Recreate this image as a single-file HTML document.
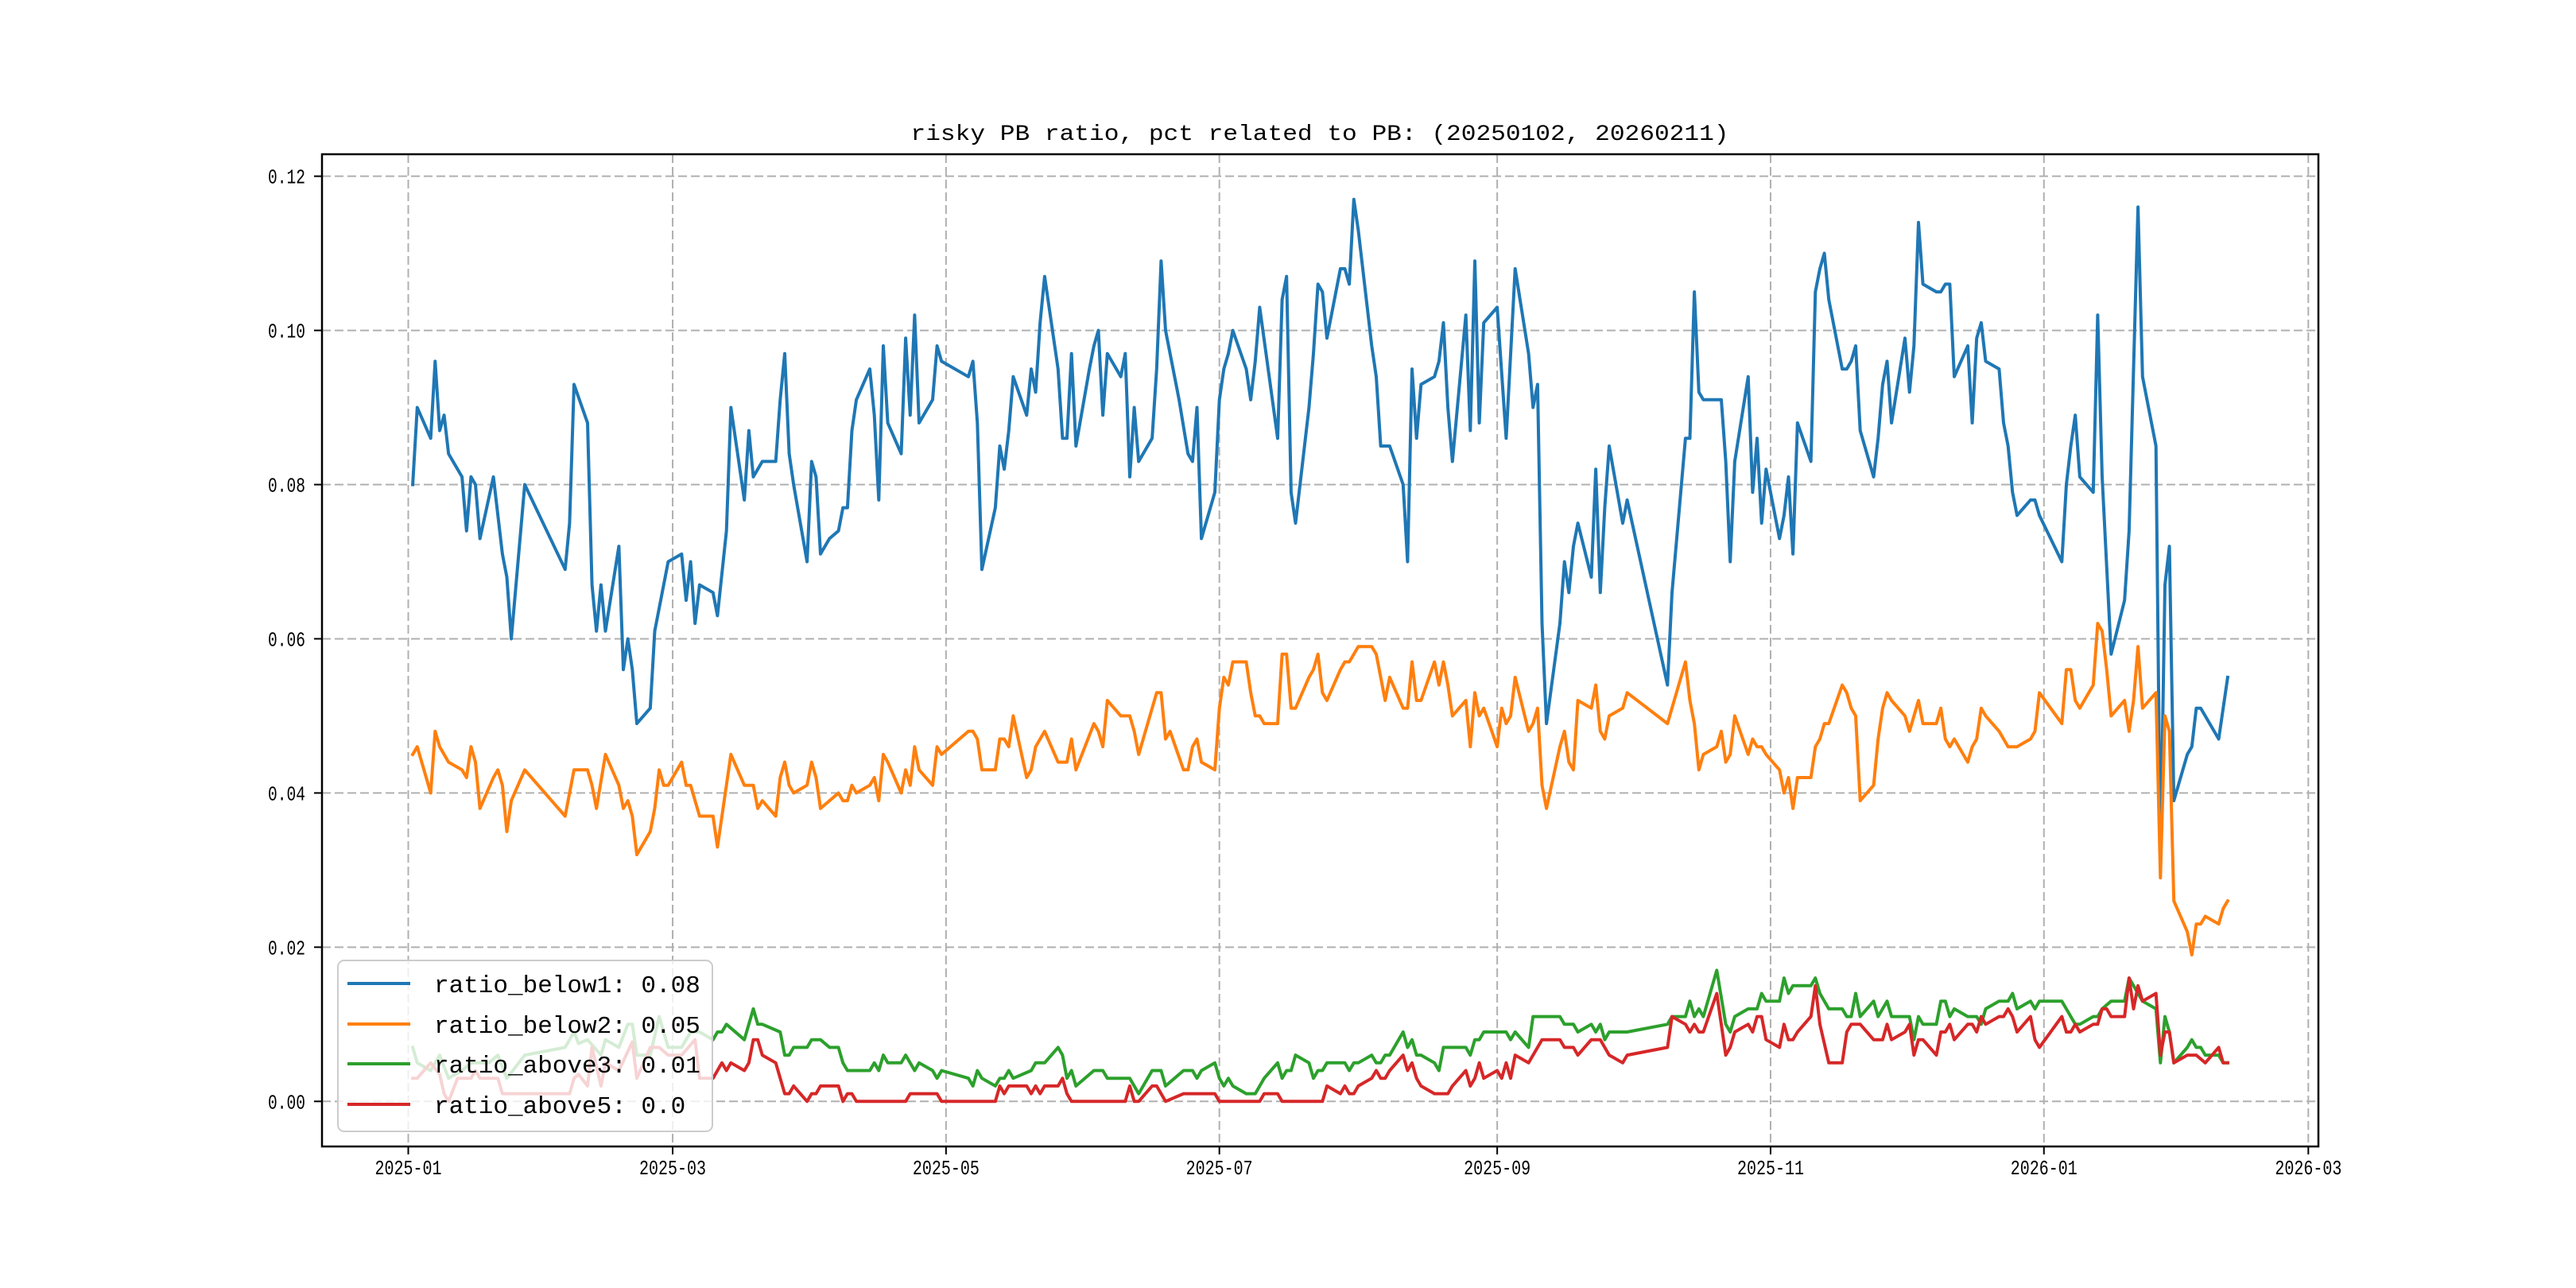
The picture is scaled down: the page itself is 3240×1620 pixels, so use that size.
<!DOCTYPE html>
<html>
<head>
<meta charset="utf-8">
<style>
html,body{margin:0;padding:0;background:#fff;}
svg{display:block;}
text{font-family:"Liberation Mono","Noto Sans CJK SC",monospace;fill:#000;}
</style>
</head>
<body>
<svg id="chart" width="3240" height="1620" viewBox="0 0 3240 1620" xmlns="http://www.w3.org/2000/svg">
  <rect x="0" y="0" width="3240" height="1620" fill="#fff"/>
  <g id="grid"></g>
  <g id="series"></g>
  <rect x="405" y="194" width="2511" height="1248" fill="none" stroke="#000" stroke-width="2.5"/>
  <g id="ticks"></g>
  <text x="1660" y="176" font-size="28" text-anchor="middle" textLength="1029" lengthAdjust="spacingAndGlyphs">risky PB ratio, pct related to PB: (20250102, 20260211)</text>
  <g id="legend"></g>
</svg>
<script>
// x values are day offsets from 2025-01-01
const monthTickDays = [0, 59, 120, 181, 243, 304, 365, 424];
const monthTickLabels = ["2025-01","2025-03","2025-05","2025-07","2025-09","2025-11","2026-01","2026-03"];
const yTickValues = [0, 0.02, 0.04, 0.06, 0.08, 0.10, 0.12];
const yTickLabels = ["0.00","0.02","0.04","0.06","0.08","0.10","0.12"];
const seriesNames = ["ratio_below1: 0.08","ratio_below2: 0.05","ratio_above3: 0.01","ratio_above5: 0.0"];

const daysBelow1 = [1,2,5,6,7,8,9,12,13,14,15,16,19,21,22,23,26,35,36,37,40,41,42,43,44,47,48,49,50,51,54,55,58,61,62,63,64,65,68,69,71,72,75,76,77,79,82,83,84,85,86,89,90,91,92,94,96,97,98,99,100,103,104,105,106,107,110,111,112,113,114,117,118,119,125,126,127,128,131,132,133,134,135,138,139,140,141,142,145,146,147,148,149,152,153,154,155,156,159,160,161,162,163,166,167,168,169,172,174,175,176,177,180,181,182,183,184,187,188,189,190,194,195,196,197,198,201,202,203,204,205,208,209,210,211,212,215,216,217,219,222,223,224,225,226,229,230,231,232,233,236,237,238,239,240,243,245,247,250,251,252,253,254,257,258,259,260,261,264,265,266,267,268,271,272,281,282,285,286,287,288,289,293,294,295,296,299,300,301,302,303,306,307,308,309,310,313,314,315,316,317,320,321,322,323,324,327,328,329,330,331,334,335,336,337,338,341,342,343,344,345,348,349,350,351,352,355,356,357,358,359,362,363,364,369,370,371,372,373,376,377,378,380,383,384,385,386,387,390,391,392,393,394,397,398,399,400,404,406];
const below1 = [0.080,0.090,0.086,0.096,0.087,0.089,0.084,0.081,0.074,0.081,0.080,0.073,0.081,0.071,0.068,0.060,0.080,0.069,0.075,0.093,0.088,0.067,0.061,0.067,0.061,0.072,0.056,0.060,0.056,0.049,0.051,0.061,0.070,0.071,0.065,0.070,0.062,0.067,0.066,0.063,0.074,0.090,0.078,0.087,0.081,0.083,0.083,0.091,0.097,0.084,0.080,0.070,0.083,0.081,0.071,0.073,0.074,0.077,0.077,0.087,0.091,0.095,0.089,0.078,0.098,0.088,0.084,0.099,0.089,0.102,0.088,0.091,0.098,0.096,0.094,0.096,0.088,0.069,0.077,0.085,0.082,0.087,0.094,0.089,0.095,0.092,0.101,0.107,0.095,0.086,0.086,0.097,0.085,0.095,0.098,0.100,0.089,0.097,0.094,0.097,0.081,0.090,0.083,0.086,0.095,0.109,0.100,0.091,0.084,0.083,0.090,0.073,0.079,0.091,0.095,0.097,0.100,0.095,0.091,0.096,0.103,0.086,0.104,0.107,0.079,0.075,0.090,0.097,0.106,0.105,0.099,0.108,0.108,0.106,0.117,0.113,0.098,0.094,0.085,0.085,0.080,0.070,0.095,0.086,0.093,0.094,0.096,0.101,0.090,0.083,0.102,0.087,0.109,0.088,0.101,0.103,0.086,0.108,0.097,0.090,0.093,0.062,0.049,0.062,0.070,0.066,0.072,0.075,0.068,0.082,0.066,0.077,0.085,0.075,0.078,0.054,0.066,0.086,0.086,0.105,0.092,0.091,0.091,0.083,0.070,0.083,0.094,0.079,0.086,0.075,0.082,0.073,0.076,0.081,0.071,0.088,0.083,0.105,0.108,0.110,0.104,0.095,0.095,0.096,0.098,0.087,0.081,0.086,0.093,0.096,0.088,0.099,0.092,0.098,0.114,0.106,0.105,0.105,0.106,0.106,0.094,0.098,0.088,0.099,0.101,0.096,0.095,0.088,0.085,0.079,0.076,0.078,0.078,0.076,0.070,0.080,0.085,0.089,0.081,0.079,0.102,0.081,0.058,0.065,0.074,0.095,0.116,0.094,0.085,0.031,0.067,0.072,0.039,0.045,0.046,0.051,0.051,0.047,0.055];

const daysBelow2 = [1,2,5,6,7,9,12,13,14,15,16,19,20,21,22,23,26,35,37,40,41,42,44,47,48,49,50,51,54,55,56,57,58,61,62,63,65,68,69,72,75,77,78,79,82,83,84,85,86,89,90,91,92,94,96,97,98,99,100,103,104,105,106,107,110,111,112,113,114,117,118,119,125,126,127,128,131,132,133,134,135,138,139,140,142,145,147,148,149,153,154,155,156,159,161,162,163,167,168,169,170,173,174,175,176,177,180,181,182,183,184,187,188,189,190,191,194,195,196,197,198,201,202,203,204,205,208,209,210,212,215,216,218,219,222,223,224,225,226,229,230,231,232,233,236,237,238,239,240,243,244,245,246,247,250,251,252,253,254,257,258,259,260,261,264,265,266,267,268,271,272,281,285,286,287,288,289,292,293,294,295,296,299,300,301,302,303,306,307,308,309,310,313,314,315,316,317,320,321,322,323,324,327,328,329,330,331,334,335,337,338,341,342,343,344,345,348,349,350,351,352,355,357,359,362,363,364,369,370,371,372,373,376,377,378,379,380,383,384,385,386,387,390,391,392,393,394,397,398,399,400,401,404,405,406];
const below2 = [0.045,0.046,0.040,0.048,0.046,0.044,0.043,0.042,0.046,0.044,0.038,0.042,0.043,0.041,0.035,0.039,0.043,0.037,0.043,0.043,0.041,0.038,0.045,0.041,0.038,0.039,0.037,0.032,0.035,0.038,0.043,0.041,0.041,0.044,0.041,0.041,0.037,0.037,0.033,0.045,0.041,0.041,0.038,0.039,0.037,0.042,0.044,0.041,0.040,0.041,0.044,0.042,0.038,0.039,0.040,0.039,0.039,0.041,0.040,0.041,0.042,0.039,0.045,0.044,0.040,0.043,0.041,0.046,0.043,0.041,0.046,0.045,0.048,0.048,0.047,0.043,0.043,0.047,0.047,0.046,0.050,0.042,0.043,0.046,0.048,0.044,0.044,0.047,0.043,0.049,0.048,0.046,0.052,0.050,0.050,0.048,0.045,0.053,0.053,0.047,0.048,0.043,0.043,0.046,0.047,0.044,0.043,0.051,0.055,0.054,0.057,0.057,0.053,0.050,0.050,0.049,0.049,0.058,0.058,0.051,0.051,0.055,0.056,0.058,0.053,0.052,0.056,0.057,0.057,0.059,0.059,0.058,0.052,0.055,0.051,0.051,0.057,0.052,0.052,0.057,0.054,0.057,0.054,0.050,0.052,0.046,0.053,0.050,0.051,0.046,0.051,0.049,0.050,0.055,0.048,0.049,0.051,0.041,0.038,0.046,0.048,0.044,0.043,0.052,0.051,0.054,0.048,0.047,0.050,0.051,0.053,0.049,0.057,0.052,0.049,0.043,0.045,0.046,0.048,0.044,0.045,0.050,0.045,0.047,0.046,0.046,0.045,0.043,0.040,0.042,0.038,0.042,0.042,0.046,0.047,0.049,0.049,0.054,0.053,0.051,0.050,0.039,0.041,0.047,0.051,0.053,0.052,0.050,0.048,0.052,0.049,0.049,0.051,0.047,0.046,0.047,0.044,0.046,0.047,0.051,0.050,0.048,0.046,0.046,0.047,0.048,0.053,0.049,0.056,0.056,0.052,0.051,0.054,0.062,0.061,0.056,0.050,0.052,0.048,0.052,0.059,0.051,0.053,0.029,0.050,0.048,0.026,0.022,0.019,0.023,0.023,0.024,0.023,0.025,0.026];

const daysAbove3 = [1,2,5,7,9,12,14,18,20,22,26,35,37,38,40,43,44,47,49,50,51,54,56,58,61,63,65,68,69,70,71,75,77,78,79,83,84,85,86,89,90,92,94,96,97,98,103,104,105,106,107,110,111,113,114,117,118,119,125,126,127,128,131,132,133,134,135,139,140,142,145,146,147,148,149,153,155,156,161,163,166,168,169,173,175,176,177,180,181,182,183,184,187,189,191,194,195,196,197,198,201,202,203,204,205,209,210,211,212,215,216,217,218,219,222,223,224,225,226,229,230,231,236,237,238,239,240,245,246,247,250,251,257,258,260,261,264,265,266,267,268,272,281,282,285,286,287,288,289,292,294,295,296,299,301,302,303,306,307,308,309,313,314,315,317,320,321,322,323,324,327,328,330,331,335,336,337,338,341,342,343,344,345,348,350,351,352,355,357,358,359,362,363,364,369,372,373,376,377,378,380,383,384,385,387,390,391,392,393,394,397,398,399,400,401,404,405,406];
const above3 = [0.007,0.005,0.004,0.006,0.003,0.004,0.005,0.005,0.006,0.003,0.006,0.007,0.009,0.0075,0.008,0.006,0.008,0.007,0.010,0.010,0.006,0.006,0.011,0.007,0.007,0.009,0.009,0.008,0.009,0.009,0.010,0.008,0.012,0.010,0.010,0.009,0.006,0.006,0.007,0.007,0.008,0.008,0.007,0.007,0.005,0.004,0.004,0.005,0.004,0.006,0.005,0.005,0.006,0.004,0.005,0.004,0.003,0.004,0.003,0.002,0.004,0.003,0.002,0.003,0.003,0.004,0.003,0.004,0.005,0.005,0.007,0.006,0.003,0.004,0.002,0.004,0.004,0.003,0.003,0.001,0.004,0.004,0.002,0.004,0.004,0.003,0.004,0.005,0.003,0.002,0.003,0.002,0.001,0.001,0.003,0.005,0.003,0.004,0.004,0.006,0.005,0.003,0.004,0.004,0.005,0.005,0.004,0.005,0.005,0.006,0.005,0.005,0.006,0.006,0.009,0.007,0.008,0.006,0.006,0.005,0.004,0.007,0.007,0.006,0.008,0.008,0.009,0.009,0.008,0.009,0.007,0.011,0.011,0.010,0.010,0.009,0.010,0.009,0.010,0.008,0.009,0.009,0.010,0.011,0.011,0.013,0.011,0.012,0.011,0.017,0.010,0.009,0.011,0.012,0.012,0.014,0.013,0.013,0.016,0.014,0.015,0.015,0.016,0.014,0.012,0.012,0.011,0.011,0.014,0.011,0.013,0.011,0.013,0.011,0.011,0.008,0.011,0.010,0.010,0.013,0.013,0.011,0.012,0.011,0.011,0.010,0.012,0.013,0.013,0.014,0.012,0.013,0.012,0.013,0.013,0.010,0.010,0.011,0.011,0.012,0.013,0.013,0.016,0.015,0.013,0.012,0.005,0.011,0.009,0.005,0.007,0.008,0.007,0.007,0.006,0.006,0.005,0.005];

const daysAbove5 = [1,2,5,7,8,9,11,14,15,16,20,21,23,36,37,38,40,41,43,44,47,50,51,54,56,58,61,64,65,68,70,71,72,75,76,77,78,79,82,84,85,86,89,90,91,92,94,96,97,98,99,100,111,112,118,119,131,132,133,134,138,139,140,141,142,145,146,147,148,160,161,162,163,166,167,169,173,180,181,190,191,194,195,204,205,208,209,210,211,212,215,216,217,218,219,222,223,224,225,226,229,232,233,236,237,238,239,240,243,244,245,246,247,250,251,252,253,257,258,260,261,264,266,268,271,272,281,282,285,286,287,288,289,292,294,295,296,299,300,301,302,303,306,307,308,309,310,313,314,315,317,320,321,322,324,327,329,330,331,334,335,336,337,338,341,342,343,344,345,348,349,350,351,352,355,356,357,358,359,362,363,364,369,370,371,372,373,376,377,378,379,380,383,384,385,386,387,390,391,392,393,394,397,398,399,401,404,405,406];
const above5 = [0.003,0.003,0.005,0.0035,0.001,0.0,0.003,0.003,0.004,0.003,0.003,0.001,0.001,0.001,0.003,0.0035,0.002,0.007,0.002,0.005,0.004,0.0077,0.003,0.007,0.007,0.006,0.006,0.008,0.003,0.003,0.005,0.004,0.005,0.004,0.005,0.008,0.008,0.006,0.005,0.001,0.001,0.002,0.0,0.001,0.001,0.002,0.002,0.002,0.0,0.001,0.001,0.0,0.0,0.001,0.001,0.0,0.0,0.002,0.001,0.002,0.002,0.001,0.002,0.001,0.002,0.002,0.003,0.001,0.0,0.0,0.002,0.0,0.0,0.002,0.002,0.0,0.001,0.001,0.0,0.0,0.001,0.001,0.0,0.0,0.002,0.001,0.002,0.001,0.001,0.002,0.003,0.004,0.003,0.003,0.004,0.006,0.004,0.005,0.003,0.002,0.001,0.001,0.002,0.004,0.002,0.003,0.005,0.003,0.004,0.003,0.005,0.003,0.006,0.005,0.006,0.007,0.008,0.008,0.007,0.007,0.006,0.008,0.008,0.006,0.005,0.006,0.007,0.011,0.010,0.009,0.010,0.009,0.009,0.014,0.006,0.007,0.009,0.010,0.009,0.011,0.011,0.008,0.007,0.010,0.008,0.008,0.009,0.011,0.015,0.010,0.005,0.005,0.009,0.010,0.010,0.008,0.008,0.010,0.008,0.009,0.010,0.006,0.008,0.008,0.006,0.009,0.009,0.010,0.008,0.010,0.010,0.009,0.011,0.010,0.011,0.011,0.012,0.011,0.009,0.011,0.008,0.007,0.011,0.009,0.009,0.010,0.009,0.010,0.010,0.012,0.012,0.011,0.011,0.016,0.012,0.015,0.013,0.014,0.006,0.009,0.009,0.005,0.006,0.006,0.006,0.005,0.007,0.005,0.005];

const NS = "http://www.w3.org/2000/svg";
const PL = 405, PR = 2916, PT = 194, PB = 1442;
const dMin = 1, dMax = 406, dPad = (dMax - dMin) * 0.05;
const vMin = 0, vMax = 0.117, vPad = (vMax - vMin) * 0.05;
function xScale(d){ return PL + (d - (dMin - dPad)) / ((dMax + dPad) - (dMin - dPad)) * (PR - PL); }
function yScale(v){ return PB - (v - (vMin - vPad)) / ((vMax + vPad) - (vMin - vPad)) * (PB - PT); }
function mk(tag, attrs, parent){ const e=document.createElementNS(NS,tag); for(const k in attrs) e.setAttribute(k, attrs[k]); parent.appendChild(e); return e; }

const grid = document.getElementById('grid');
const ticks = document.getElementById('ticks');
yTickValues.forEach((v,i)=>{
  const y = yScale(v);
  const g = mk('line',{x1:PL,x2:PR,y1:y,y2:y,stroke:'#b0b0b0','stroke-width':2,'stroke-dasharray':'11,5'},grid);
  
  
  const t = mk('line',{x1:PL-10,x2:PL,y1:y,y2:y,stroke:'#000','stroke-width':2},ticks);
  
  
  const lb = mk('text',{x:384,y:y+9,'font-size':26,'text-anchor':'end',textLength:47,lengthAdjust:'spacingAndGlyphs'},ticks);
  lb.textContent = yTickLabels[i];
  
  
});
monthTickDays.forEach((d,i)=>{
  const x = xScale(d);
  const g = mk('line',{x1:x,x2:x,y1:PT,y2:PB,stroke:'#b0b0b0','stroke-width':2,'stroke-dasharray':'11,5'},grid);
  
  
  const t = mk('line',{x1:x,x2:x,y1:PB,y2:PB+10,stroke:'#000','stroke-width':2},ticks);
  
  
  const lb = mk('text',{x:x,y:1477,'font-size':26,'text-anchor':'middle',textLength:84,lengthAdjust:'spacingAndGlyphs'},ticks);
  lb.textContent = monthTickLabels[i];
  
  
});

const seriesDefs = [
  {days:daysBelow1, vals:below1, color:'#1f77b4', name:'series-ratio-below1'},
  {days:daysBelow2, vals:below2, color:'#ff7f0e', name:'series-ratio-below2'},
  {days:daysAbove3, vals:above3, color:'#2ca02c', name:'series-ratio-above3'},
  {days:daysAbove5, vals:above5, color:'#d62728', name:'series-ratio-above5'}
];
const sg = document.getElementById('series');
seriesDefs.forEach(s=>{
  const pts = s.days.map((d,i)=>xScale(d).toFixed(1)+','+yScale(s.vals[i]).toFixed(1)).join(' ');
  const pl = mk('polyline',{points:pts,fill:'none',stroke:s.color,'stroke-width':4,'stroke-linejoin':'round','stroke-linecap':'square'},sg);
  
  
});

const lg = document.getElementById('legend');
const box = mk('rect',{x:425,y:1208,width:471,height:215,rx:8,fill:'#fff','fill-opacity':0.8,stroke:'#cccccc','stroke-width':2},lg);


const rowY = [1237,1288,1338,1389];
seriesDefs.forEach((s,i)=>{
  const ln = mk('line',{x1:437,x2:516,y1:rowY[i],y2:rowY[i],stroke:s.color,'stroke-width':4},lg);
  
  
  const tx = mk('text',{x:546,y:rowY[i]+11,'font-size':31,textLength:(seriesNames[i].length*18.6).toFixed(1),lengthAdjust:'spacingAndGlyphs'},lg);
  tx.textContent = seriesNames[i];
  
  
});
</script>
</body>
</html>
